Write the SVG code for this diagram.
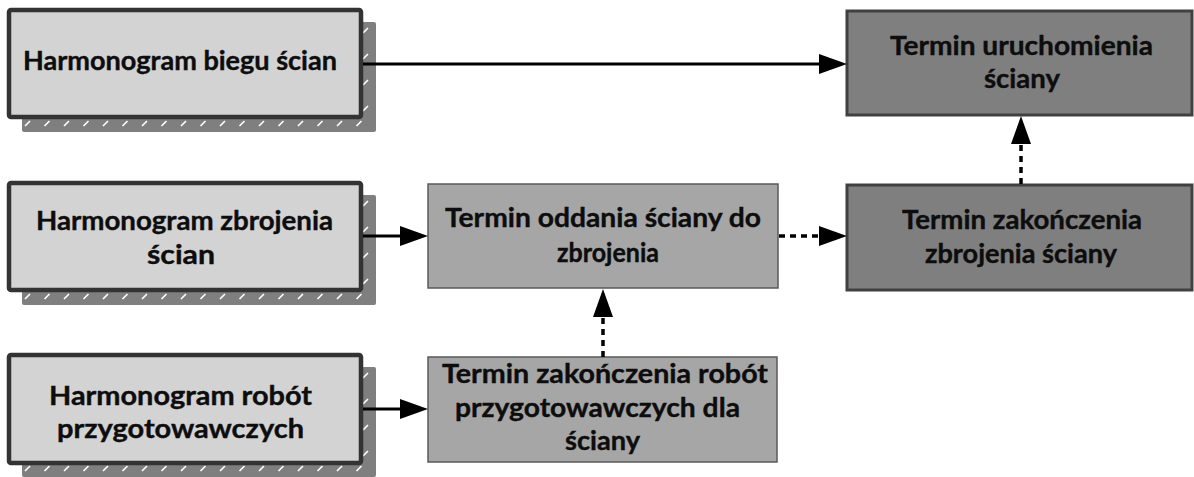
<svg xmlns="http://www.w3.org/2000/svg" xmlns:xlink="http://www.w3.org/1999/xlink" width="1194" height="477" viewBox="0 0 1194 477">
<style>
.src{fill:#d3d3d3;stroke:#333333;stroke-width:4.5}
.mid{fill:#a6a6a6;stroke:#595959;stroke-width:1.5}
.dst{fill:#7f7f7f;stroke:#404040;stroke-width:3}
.shadow{fill:#7f7f7f}
.hatch{fill:none;stroke:#ffffff;stroke-width:1.6}
.lbl{font-family:Lato,"Open Sans","Liberation Sans",sans-serif;font-weight:bold;font-size:27.5px;fill:#0d0d0d;text-anchor:middle;stroke:#0d0d0d;stroke-width:0.4}
.solid{fill:none;stroke:#000;stroke-width:3}
.dotted{fill:none;stroke:#000;stroke-width:3.5;stroke-dasharray:6 5}
</style>
<defs>
<marker id="ah" markerUnits="userSpaceOnUse" markerWidth="28" markerHeight="20" viewBox="0 0 28 20" refX="0" refY="10" orient="auto">
<path d="M0,0 L28,10 L0,20 z" fill="#000"/>
</marker>
<g id="shadowbox">
<rect class="shadow" x="13" y="12" width="354" height="110" rx="2"/>
<path class="hatch" d="M16,116 l5,-5 M35.5,116 l5,-5 M55,116 l5,-5 M74.5,116 l5,-5 M94,116 l5,-5 M113.5,116 l5,-5 M133,116 l5,-5 M152.5,116 l5,-5 M172,116 l5,-5 M191.5,116 l5,-5 M211,116 l5,-5 M230.5,116 l5,-5 M250,116 l5,-5 M269.5,116 l5,-5 M289,116 l5,-5 M308.5,116 l5,-5 M328,116 l5,-5 M347.5,116 l5,-5 M354,23 l5,-5 M354,49 l5,-5 M354,75 l5,-5 M354,101 l5,-5"/>
</g>
</defs>

<g id="node-harmonogram-biegu">
<use xlink:href="#shadowbox" x="9" y="10"/>
<rect class="src" x="9" y="10" width="352" height="107" rx="2"/>
<text class="lbl" x="180" y="70" textLength="314" lengthAdjust="spacingAndGlyphs">Harmonogram biegu ścian</text>
</g>

<g id="node-harmonogram-zbrojenia">
<use xlink:href="#shadowbox" x="9" y="183"/>
<rect class="src" x="9" y="183" width="352" height="107" rx="2"/>
<text class="lbl" x="184.5" y="230" textLength="297" lengthAdjust="spacingAndGlyphs">Harmonogram zbrojenia</text>
<text class="lbl" x="181" y="264" textLength="68" lengthAdjust="spacingAndGlyphs">ścian</text>
</g>

<g id="node-harmonogram-robot">
<use xlink:href="#shadowbox" x="9" y="355"/>
<rect class="src" x="9" y="355" width="352" height="108" rx="2"/>
<text class="lbl" x="180.5" y="405" textLength="263" lengthAdjust="spacingAndGlyphs">Harmonogram robót</text>
<text class="lbl" x="180.5" y="438" textLength="247" lengthAdjust="spacingAndGlyphs">przygotowawczych</text>
</g>

<g id="node-termin-oddania">
<rect class="mid" x="428" y="184" width="350" height="104"/>
<text class="lbl" x="603" y="227" textLength="316" lengthAdjust="spacingAndGlyphs">Termin oddania ściany do</text>
<text class="lbl" x="608" y="262" textLength="102" lengthAdjust="spacingAndGlyphs">zbrojenia</text>
</g>

<g id="node-termin-zakonczenia-robot">
<rect class="mid" x="428" y="357" width="349" height="105"/>
<text class="lbl" x="605" y="383" textLength="326" lengthAdjust="spacingAndGlyphs">Termin zakończenia robót</text>
<text class="lbl" x="597.5" y="417" textLength="285" lengthAdjust="spacingAndGlyphs">przygotowawczych dla</text>
<text class="lbl" x="602.5" y="450" textLength="75" lengthAdjust="spacingAndGlyphs">ściany</text>
</g>

<g id="node-termin-uruchomienia">
<rect class="dst" x="847" y="11" width="345" height="104"/>
<text class="lbl" x="1021.5" y="55" textLength="263" lengthAdjust="spacingAndGlyphs">Termin uruchomienia</text>
<text class="lbl" x="1022" y="88" textLength="76" lengthAdjust="spacingAndGlyphs">ściany</text>
</g>

<g id="node-termin-zakonczenia-zbrojenia">
<rect class="dst" x="847" y="185" width="345" height="105"/>
<text class="lbl" x="1022" y="229" textLength="240" lengthAdjust="spacingAndGlyphs">Termin zakończenia</text>
<text class="lbl" x="1021" y="263" textLength="192" lengthAdjust="spacingAndGlyphs">zbrojenia ściany</text>
</g>

<g id="connectors">
<line class="solid" x1="363" y1="64" x2="819" y2="64" marker-end="url(#ah)"/>
<line class="solid" x1="363" y1="236" x2="400" y2="236" marker-end="url(#ah)"/>
<line class="solid" x1="363" y1="409" x2="400" y2="409" marker-end="url(#ah)"/>
<line class="dotted" x1="779" y1="236" x2="819" y2="236" marker-end="url(#ah)"/>
<line class="dotted" x1="603" y1="357" x2="603" y2="317" marker-end="url(#ah)"/>
<line class="dotted" x1="1021" y1="184" x2="1021" y2="144" marker-end="url(#ah)"/>
</g>
</svg>
